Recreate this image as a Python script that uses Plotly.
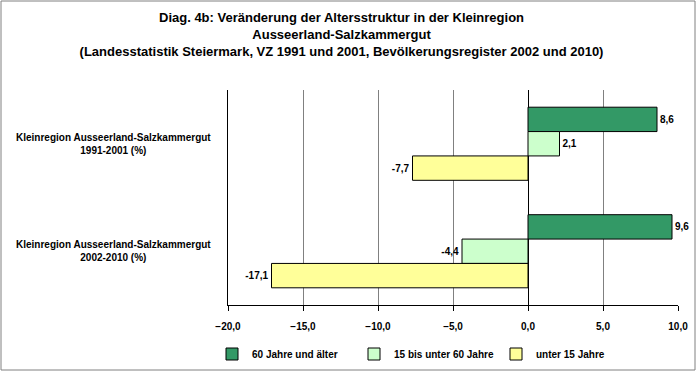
import plotly.graph_objects as go

categories = ["Kleinregion Ausseerland-Salzkammergut<br>1991-2001 (%)",
              "Kleinregion Ausseerland-Salzkammergut<br>2002-2010 (%)"]
series_names = ["60 Jahre und älter", "15 bis unter 60 Jahre", "unter 15 Jahre"]
val_60plus = [8.6, 9.6]
val_15_60 = [2.1, -4.4]
val_under15 = [-7.7, -17.1]
x_ticks = [-20, -15, -10, -5, 0, 5, 10]

colors = ["#339966", "#CCFFCC", "#FFFF99"]
series_vals = [val_60plus, val_15_60, val_under15]

W, H = 697, 372
L, R, T, B = 228, 678, 90, 305
FONT = "Liberation Sans, Arial"

fig = go.Figure()
for name, vals, col in zip(series_names, series_vals, colors):
    fig.add_trace(go.Bar(
        y=categories, x=vals, name=name, orientation="h",
        marker=dict(color=col, line=dict(color="black", width=1)),
        texttemplate="%{x:.1f}", textposition="outside",
        textfont=dict(family=FONT, size=10, color="black", weight="bold"),
        constraintext="none", cliponaxis=False,
    ))

def px_x(px):
    return (px - L) / (R - L)

def px_y(py):
    return (B - py) / (B - T)

annotations = []
for c in categories:
    annotations.append(dict(
        x=px_x(113), xref="paper", y=c, yref="y", text=c, showarrow=False,
        align="center", xanchor="center", yanchor="middle",
        font=dict(family=FONT, size=10, color="black", weight="bold"),
    ))

fig.update_layout(
    width=W, height=H, autosize=False,
    margin=dict(l=L, r=W - R, t=T, b=H - B, autoexpand=False),
    paper_bgcolor="white", plot_bgcolor="white",
    separators=",.",
    barmode="group", bargap=0.32, bargroupgap=0,
    title=dict(
        text="Diag. 4b: Veränderung der Altersstruktur in der Kleinregion<br>"
             "Ausseerland-Salzkammergut<br>"
             "(Landesstatistik Steiermark, VZ 1991 und 2001, Bevölkerungsregister 2002 und 2010)",
        x=0.49, xref="container", xanchor="center",
        y=1 - 22 / H, yref="container", yanchor="top",
        font=dict(family=FONT, size=13, color="black", weight="bold"),
    ),
    xaxis=dict(
        range=[-20, 10], tickvals=x_ticks, tickformat=".1f",
        showgrid=True, gridcolor="#808080", gridwidth=1,
        zeroline=True, zerolinecolor="black", zerolinewidth=1,
        showline=True, linecolor="black", linewidth=1,
        ticks="outside", ticklen=5, tickcolor="black",
        ticklabelstandoff=7, automargin=False,
        tickfont=dict(family=FONT, size=10, color="black", weight="bold"),
    ),
    yaxis=dict(
        type="category", autorange="reversed", automargin=False,
        showticklabels=False, showgrid=False, zeroline=False,
        showline=True, linecolor="black", linewidth=1,
    ),
    legend=dict(
        orientation="h", xref="container", x=212 / W, xanchor="left",
        yref="container", y=1 - 354 / H, yanchor="middle",
        font=dict(family=FONT, size=10, color="black", weight="bold"),
        entrywidth=97, entrywidthmode="pixels",
        bgcolor="rgba(0,0,0,0)",
    ),
    annotations=annotations,
    shapes=[dict(type="rect", xref="paper", yref="paper",
                 x0=px_x(1), x1=px_x(695), y0=px_y(370), y1=px_y(1),
                 line=dict(color="#808080", width=1), fillcolor="rgba(0,0,0,0)", layer="below")],
)

fig.write_html(
    "out.html",
    config={"displayModeBar": False, "responsive": False},
    post_script="document.body.style.margin='0px';document.body.style.overflow='hidden';",
)
